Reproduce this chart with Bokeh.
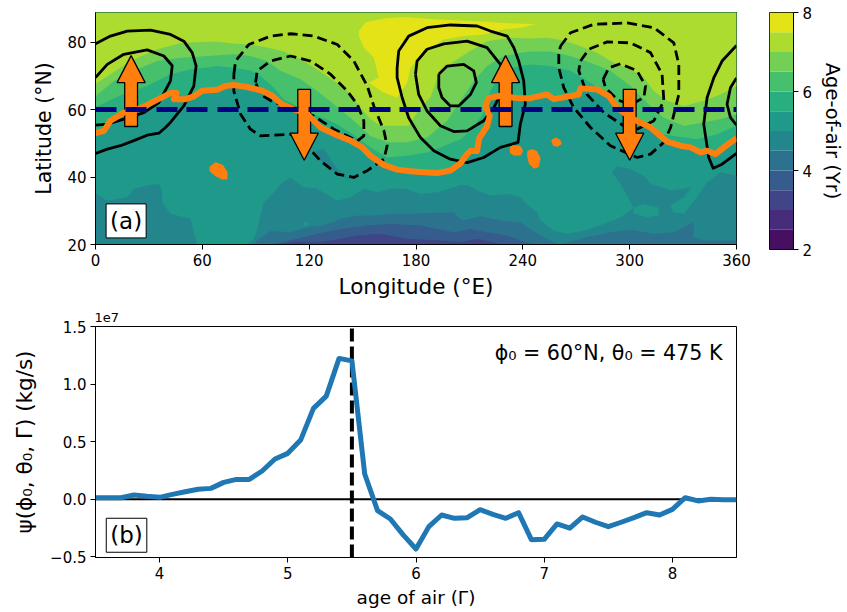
from bokeh.plotting import figure
from bokeh.layouts import column, row
from bokeh.models import Range1d, Label, FixedTicker
from bokeh.palettes import Viridis256
from bokeh.embed import file_html
from bokeh.resources import INLINE

# ---------- panel (a) data: lon / lat ----------
age_levels = [2 + 0.5 * i for i in range(13)]
LAT_TOP = 88.8

age_7p0 = [(0,67.7),(8.4,70.5),(19.7,74.4),(34.6,77.9),(47.7,79.7),(60.8,80.1),(68.4,80.1),(77.7,79.6),(87,79.3),(96.4,78.4),(105.8,77.2),(115.2,74.9),(124.5,71.9),(133.9,68.5),(141.4,65.5),(148.9,60.6),(154.4,57.2),(160,55.2),(169.4,55.2),(175.9,55.2),(182.5,60.6),(188.1,63.6),(191.8,69),(200.3,73.9),(208.7,76.9),(219.9,80.3),(233,81.3),(244.3,81.1),(253.7,81.3),(263,80.5),(272.4,78.8),(281.7,76.9),(291.1,73.9),(300.5,71.9),(308,69.5),(313.6,65.5),(321,62.6),(330.4,61.1),(341.6,62.6),(351,64.5),(360,67)]
age_6p5 = [(0,64),(10.3,68.5),(23.4,72),(34.6,74.4),(47.7,75.4),(62.7,75.9),(77.7,76.4),(87,75.9),(96.4,74.4),(103.9,71.5),(115.2,69),(124.5,65.5),(133.9,61.6),(143.2,57.6),(154.4,52.2),(163.8,50.3),(175,50.3),(186.2,51.7),(197.5,56.7),(205,62.6),(212.4,68.5),(219.9,72.9),(229.3,75.9),(238.6,76.9),(244.3,77.2),(255.5,77.2),(266.8,75.9),(278,73.9),(289.2,71.5),(300.5,67),(309.8,62),(319.2,57.6),(330.4,55.2),(341.6,56.2),(351,57.2),(360,58.6)]
age_6p0 = [(0,60.8),(15.9,64.6),(29,67),(42.1,70.5),(53.4,72),(62.7,72.5),(68.4,72.9),(77.7,72.4),(87,71.6),(92.7,70),(100.2,66.5),(105.8,63),(120.8,59.1),(133.9,56.2),(143.2,53.2),(154.4,48.8),(163.8,45.8),(175,46.3),(186.2,47.3),(193.7,48.8),(205,51.2),(210.6,53.7),(216.2,57.6),(219,60.6),(221.8,65.5),(228.3,71.5),(238.6,72.9),(244.3,73.4),(255.5,72.9),(266.8,71.5),(278,68),(287.4,64.5),(294.8,60.6),(306.1,56.2),(319.2,52.7),(324.8,52.2),(337.9,51.2),(349.1,52.7),(360,55.2)]
# the orange curve is the 5.5-year contour
age_5p5 = [(0,53),(4.7,53.7),(8.4,56.7),(15.9,59.1),(21.5,59.6),(29,61.4),(36.5,63.4),(42.1,64.9),(45.5,64.9),(44,63.1),(50.6,63.1),(55.2,63.9),(59.9,65.6),(68.3,65.9),(73,67),(77.7,67.3),(85.2,66.7),(93.6,65.6),(99.2,64.1),(104.8,61.6),(111.4,60.1),(118.9,58.7),(126.4,54.7),(135.7,52.4),(143.2,50.8),(149.8,48.8),(154.4,46.3),(161.9,43.6),(169.4,42.2),(176.9,41.7),(182.5,41.5),(191.8,41.2),(199.3,41.9),(205,44.1),(208.7,46.8),(210.6,47.7),(214.3,47.7),(215.3,51.3),(219.9,55),(221.4,58.1),(219,61.1),(220.9,63.4),(227.4,64.1),(236.8,63.4),(244.3,63.4),(253.6,64.5),(257.4,63.1),(266.8,64),(271.4,64.5),(272.4,66.3),(281.7,66),(288.3,64),(293,60.6),(300.5,57.6),(311.7,54.7),(321,50.5),(328.5,49.3),(334.2,48.8),(339.8,47.3),(343.5,47.8),(348.2,46.8),(352.9,48.8),(360,51.5)]
age_7p5_patch = [(147.9,83.3),(151.6,85.8),(162,87),(173,87.5),(191.8,86.7),(214.3,86.2),(229.3,85.7),(247,85.3),(238.6,84.3),(229.3,83.8),(218,82.3),(206.8,81.8),(195.6,80.8),(184.4,77.4),(176.9,72.4),(175,68),(169.4,63.6),(162,65),(153.5,68),(159.1,69.5),(156.3,75.4),(150.7,78.4),(147.9,81.8)]

age_5p0_left = [(0,35),(0.9,35),(6.6,33),(17.8,34),(21.5,36.5),(29,37.5),(35.6,38),(37.4,36),(37.4,32.5),(42.1,29.1),(53.4,27.6),(57.1,20),(0,20)]
age_5p0_right = [(85.2,20),(88.9,21.7),(90.8,24.6),(94.5,32.5),(100.2,35.5),(103.9,37.9),(109.5,39.9),(113.3,38.4),(117,37),(124.5,36.5),(135.7,33),(143.2,34),(150.7,36.5),(158.2,35.5),(165.7,36.5),(174.1,36.5),(182.5,35),(191.9,35.5),(201.2,37),(205,37.7),(209.6,37.5),(214.3,36),(221.8,34.5),(231.2,35),(238.7,34),(243.3,31.5),(248,29.6),(249.9,27.1),(257.4,24.1),(264.9,23.2),(274.2,24.1),(285.5,26.1),(294.8,28.1),(302.3,31),(294.8,38),(290.1,41.4),(293,43.2),(300.4,42.4),(307.9,40.4),(311.7,38),(322.9,36),(330.4,36.5),(335.1,37.3),(330.4,34),(322.9,31.5),(324.8,29.6),(330.4,29.1),(336.9,33.5),(343.5,38.4),(351,41.4),(360,40.4),(360,20)]
age_5p0_isle = [(123.5,47.8),(128.2,48.3),(135.7,42.5),(143.2,39),(135.7,40.9),(126.4,44.8)]
age_5p5_isles = [[(302.3,31),(307.9,32),(316.3,31),(316.3,28.6),(309.8,28.1),(302.3,29.1)],[(117,26.6),(119,26.6),(119,25.6),(117,25.6)]]
age_4p5_a = [(88.9,20),(90.8,21.2),(98.3,24.1),(109.5,23.6),(118.9,25.1),(128.2,25.6),(137.6,27.6),(147,28.6),(156.3,28.6),(165.7,29.1),(176.9,29.1),(191.9,29.4),(201.2,29.6),(205.9,27.1),(216.2,28.4),(227.4,27.1),(238.7,26.6),(244.3,24.6),(249.9,22.7),(257.4,20.7),(261.1,20)]
age_4p5_b = [(261.1,20),(276.1,22.2),(289.2,23.6),(300.4,24.4),(313.5,23.2),(324.8,23.6),(336,26.6),(336,22.2),(341.6,21.2),(360,21.2),(360,20)]
age_4p0 = [(98.3,20),(113.3,21.7),(124.5,23.2),(137.6,24.6),(152.6,25.6),(165.7,26.1),(182.5,25.6),(191.9,24.6),(201.2,23.6),(210.6,24.6),(219.9,23.6),(231.2,22.7),(238.7,21.2),(246.1,20)]
age_3p5 = [(102,20),(113.3,20.9),(124.5,20.7),(132,21.2),(147,22.7),(160,23.2),(175,21.7),(193.7,21.2),(205,20.7),(214.3,21.7),(223.7,20.7),(227.4,20)]

orange_isles = [
    [(64.6,42.9),(67.4,44.1),(71.1,43.4),(73.6,41.4),(73.6,39.6),(71.1,39.6),(67.4,40.6),(64.6,41.9)],
    [(233.3,48.8),(235,49.2),(238.2,49),(239.5,47.8),(238.5,46.7),(235,46.7),(233.3,47.3)],
    [(243,47.5),(245,48),(247.5,47.5),(249.4,45.5),(248.5,43.2),(246.5,42.8),(244,44),(243,46)],
    [(256.5,50.8),(258.5,51.4),(260.5,50.9),(261.3,50),(259.5,49.3),(257.5,49.5)],
]

solid_contours = [
    [(0,79.5),(8.4,81.8),(17.8,83.3),(30.9,83.6),(42.1,82.3),(49.6,80.3),(54.3,76.9),(56.5,73),(55.2,67),(49.6,61.1),(42.1,56.2),(39.3,54.7),(35.6,53),(29,52.4),(21.5,50.8),(14,49.3),(6.6,48.3),(0,47)],
    [(0,69.5),(6.6,73.4),(15.9,76.4),(29,77.7),(38.4,75.9),(43.1,73),(42.1,68.5),(35.6,62.1),(27.2,59.1),(15.9,57.2),(6.6,55.7),(0,55.4)],
    [(169.4,72.4),(170.3,77.4),(175.9,81.8),(186.2,84.3),(199.3,85.1),(214.3,84.8),(221.8,83.3),(231.2,81.8),(234.9,78.4),(237.7,74.4),(240.5,68.5),(241.4,61.6),(238.6,55.7),(237.3,50.3),(227.4,48.8),(218,45.8),(208.7,44.3),(199.3,45.3),(190,47.8),(182.5,51.7),(175.9,57.6),(172.2,63.6),(169.4,69.5),(169.4,72.4)],
    [(179.7,70.5),(180.6,74.4),(186.2,77.9),(195.6,79.5),(208.7,80.3),(219.9,78.4),(227.4,73.4),(228.3,65.5),(223.7,60.6),(218,56.7),(208.7,53.7),(201.2,53.5),(193.7,55.2),(186.2,59.6),(181.5,64.5),(179.7,70.5)],
    [(192.8,70.5),(197.5,72.9),(206.8,73.4),(212.4,71.5),(213.9,68),(210.6,64.5),(204,61.1),(199.3,61.1),(194.6,63.6),(192.8,66.5),(192.8,70.5)],
    [(360,79),(351.9,74.4),(347.3,69.5),(343.5,63.6),(341.6,55.7),(344.4,45.8),(346.9,42.6),(351.9,43.8),(360,47)],
    [(360,69.4),(356.6,66.5),(354.7,61.6),(356.6,57.6),(360,55.4)],
]
dashed_contours = [
    [(77.7,70.5),(78.7,74.4),(86.1,79.3),(98.3,81.8),(109.5,82.5),(122.6,81.8),(135.8,79.3),(145.1,74.4),(152.6,67),(156.3,61.1),(162,53.7),(163.8,49.3),(162,45.3),(152.6,41.9),(145.1,39.9),(135.7,40.9),(126.4,44.8),(117,50.3),(109.5,52.7),(92.7,52.2),(87,54.2),(81.5,58.6),(77.7,65.5),(77.7,70.5)],
    [(89.9,68),(90.8,71.5),(98.3,74.4),(109.5,75.9),(120.8,74.4),(132,70.5),(141.4,65.5),(147,61.6),(150.7,56.7),(150.7,52.2),(147,50.7),(133.9,54.2),(122.6,58.1),(111.4,60.6),(100.2,62.1),(92.7,64.5),(89.9,68)],
    [(261.1,78.8),(266.8,82.8),(279.9,85.3),(298.6,85.7),(313.6,84.3),(324.8,79.8),(327.6,73.4),(327.6,64.5),(323,54.7),(319.2,50.3),(311.7,46.8),(304.2,45.8),(289.2,49.3),(278,54.7),(268.6,60.6),(263,66.5),(260.2,72.4),(260.2,76.4),(261.1,78.8)],
    [(272.4,74.4),(277.1,77.9),(287.4,80.1),(300.5,79.8),(311.7,76.9),(318.2,70.5),(319.2,62.6),(313.6,56.7),(304.2,54.2),(296.7,55.2),(285.5,59.1),(276.1,64.5),(271.4,71.5),(272.4,74.4)],
    [(285.1,69),(288.3,72.4),(294.8,73.6),(304.2,71.5),(308.9,67),(308,63.6),(300.5,61.4),(293,63),(286.4,66.5),(285.1,69)],
]

# arrows: longitude, tail latitude, tip latitude
arrow_lon = [20.0, 117.2, 230.3, 300.0]
arrow_tail = [55.0, 66.0, 55.0, 66.0]
arrow_tip = [76.0, 45.0, 76.0, 45.0]
ARROW_HEAD_LEN = 8.0
ARROW_SHAFT_HALF = 3.6
ARROW_HEAD_HALF = 7.9

phi0 = 60
lon_ticks = [0, 60, 120, 180, 240, 300, 360]
lat_ticks = [20, 40, 60, 80]
cbar_ticks = [2, 4, 6, 8]

# ---------- panel (b) data ----------
gamma = [3.5,3.6,3.7,3.8,3.9,4.0,4.1,4.2,4.3,4.4,4.5,4.6,4.7,4.8,4.9,5.0,5.1,5.2,5.3,5.4,5.5,5.6,5.7,5.8,5.9,6.0,6.1,6.2,6.3,6.4,6.5,6.6,6.7,6.8,6.9,7.0,7.1,7.2,7.3,7.4,7.5,7.6,7.7,7.8,7.9,8.0,8.1,8.2,8.3,8.4,8.5]
psi = [.014,.014,.014,.038,.026,.017,.043,.066,.087,.095,.147,.173,.173,.246,.350,.399,.514,.789,.896,1.223,1.202,.220,-.098,-.171,-.309,-.431,-.237,-.136,-.165,-.159,-.09,-.13,-.165,-.116,-.35,-.347,-.214,-.251,-.153,-.199,-.237,-.199,-.159,-.116,-.136,-.087,.014,-.014,0,-.003,-.003]
gamma0 = 5.5
b_xticks = [4, 5, 6, 7, 8]
b_yticks = [-0.5, 0.0, 0.5, 1.0, 1.5]
b_ylabels = {-0.5: "\u22120.5", 0: "0.0", 0.5: "0.5", 1: "1.0", 1.5: "1.5"}

band = [Viridis256[int((i + 0.5) / 12 * 256)] for i in range(12)]
col = {lv: band[i] for i, lv in enumerate(age_levels[:-1])}

FONT = "DejaVu Sans"
TICK = "15px"


def style(p, xlab="20px", ylab="20px", ystand=2):
    p.outline_line_color = "black"
    p.outline_line_width = 1
    p.grid.visible = False
    for ax, size, stand in ((p.xaxis[0], xlab, 5), (p.yaxis[0], ylab, ystand)):
        ax.major_tick_in = 0
        ax.major_tick_out = 5
        ax.minor_tick_line_color = None
        ax.axis_line_color = "black"
        ax.major_tick_line_color = "black"
        ax.major_label_standoff = 4
        ax.major_label_text_font = FONT
        ax.major_label_text_font_size = TICK
        ax.major_label_text_color = "black"
        ax.axis_label_standoff = stand
        ax.axis_label_text_font = FONT
        ax.axis_label_text_font_size = size
        ax.axis_label_text_font_style = "normal"
        ax.axis_label_text_color = "black"


def xs(pts):
    return [q[0] for q in pts]


def ys(pts):
    return [q[1] for q in pts]


def above(pts):
    return xs(pts) + [360, 0], ys(pts) + [LAT_TOP, LAT_TOP]


# ---------- panel (a) ----------
a = figure(frame_width=641, frame_height=232, min_border_left=95, min_border_right=33, min_border_top=12,
           min_border_bottom=56, x_range=Range1d(0, 360), y_range=Range1d(20, LAT_TOP),
           toolbar_location=None, output_backend="svg",
           x_axis_label="Longitude (\u00b0E)", y_axis_label="Latitude (\u00b0N)")
style(a, xlab="21.5px", ylab="20.5px", ystand=8)
a.xaxis.ticker = FixedTicker(ticks=lon_ticks)
a.yaxis.ticker = FixedTicker(ticks=lat_ticks)
a.background_fill_color = col[5.0]

for pts, lv in ((age_5p5, 5.5), (age_6p0, 6.0), (age_6p5, 6.5), (age_7p0, 7.0)):
    x, y = above(pts)
    a.patch(x, y, fill_color=col[lv], line_color=None)
a.patch(xs(age_7p5_patch), ys(age_7p5_patch), fill_color=col[7.5], line_color=None)
for pts in (age_5p0_left, age_5p0_right, age_5p0_isle):
    a.patch(xs(pts), ys(pts), fill_color=col[4.5], line_color=None)
for pts in age_5p5_isles:
    a.patch(xs(pts), ys(pts), fill_color=col[5.0], line_color=None)
for pts in (age_4p5_a, age_4p5_b):
    a.patch(xs(pts), ys(pts), fill_color=col[4.0], line_color=None)
a.patch(xs(age_4p0), ys(age_4p0), fill_color=col[3.5], line_color=None)
a.patch(xs(age_3p5), ys(age_3p5), fill_color=col[3.0], line_color=None)

a.multi_line([xs(c) for c in solid_contours], [ys(c) for c in solid_contours], line_color="black",
             line_width=2.8, line_join="round")
a.multi_line([xs(c) for c in dashed_contours], [ys(c) for c in dashed_contours], line_color="black",
             line_width=2.8, line_dash="10 5")

arrow_x, arrow_y = [], []
for lon, t0, t1 in zip(arrow_lon, arrow_tail, arrow_tip):
    sgn = 1 if t1 > t0 else -1
    neck = t1 - sgn * ARROW_HEAD_LEN
    arrow_x.append([lon - ARROW_SHAFT_HALF, lon - ARROW_SHAFT_HALF, lon - ARROW_HEAD_HALF, lon,
                    lon + ARROW_HEAD_HALF, lon + ARROW_SHAFT_HALF, lon + ARROW_SHAFT_HALF])
    arrow_y.append([t0, neck, neck, t1, neck, neck, t0])
a.patches(arrow_x, arrow_y, fill_color="#ff7f0e", line_color="black", line_width=1.3)

a.line(xs(age_5p5), ys(age_5p5), line_color="#ff7f0e", line_width=6, line_join="round")
a.patches([xs(c) for c in orange_isles], [ys(c) for c in orange_isles], fill_color="#ff7f0e",
          line_color="#ff7f0e", line_width=2)
a.line([0, 360], [phi0, phi0], line_color="navy", line_width=5, line_dash="21 9 21 10 21 9 21 10 21 9")
a.add_layout(Label(x=17.2, y=27.0, text="(a)", text_font=FONT, text_font_size="23px", text_align="center",
                   text_baseline="middle", text_color="black", background_fill_color="white",
                   border_line_color="black", border_line_width=1, padding=4))

# ---------- colour bar ----------
c = figure(frame_width=24, frame_height=237, min_border_left=0, min_border_right=52, min_border_top=12,
           min_border_bottom=51, x_range=Range1d(0, 1), y_range=Range1d(2, 8),
           toolbar_location=None, output_backend="svg", y_axis_location="right",
           y_axis_label="Age-of-air (Yr)")
style(c, ylab="19.5px", ystand=6)
c.xaxis.visible = False
c.yaxis.ticker = FixedTicker(ticks=cbar_ticks)
c.quad(left=0, right=1, bottom=age_levels[:-1], top=age_levels[1:], fill_color=band, line_color=None)

# ---------- panel (b) ----------
b = figure(frame_width=641, frame_height=231, min_border_left=95, min_border_right=33, min_border_top=25,
           min_border_bottom=54, x_range=Range1d(3.5, 8.5), y_range=Range1d(-0.505, 1.5),
           toolbar_location=None, output_backend="svg", title="1e7",
           x_axis_label="age of air (\u0393)", y_axis_label="\u03c8(\u03d5\u2080, \u03b8\u2080, \u0393) (kg/s)")
style(b, xlab="18.5px", ylab="21.5px", ystand=10)
b.title.text_font = FONT
b.title.text_font_size = "13px"
b.title.text_font_style = "normal"
b.title.text_color = "black"
b.title.offset = -1
b.title.standoff = 10
b.xaxis.ticker = FixedTicker(ticks=b_xticks)
b.yaxis.ticker = FixedTicker(ticks=b_yticks)
b.yaxis.major_label_overrides = b_ylabels
b.line([gamma0, gamma0], [-0.505, 1.5], line_color="black", line_width=4, line_dash="13 5")
b.line([3.5, 8.5], [0, 0], line_color="black", line_width=2)
b.line(gamma, psi, line_color="#1f77b4", line_width=5, line_join="round")
b.add_layout(Label(x=8.39, y=1.266, text="\u03d5\u2080 = 60\u00b0N, \u03b8\u2080 = 475 K", text_font=FONT,
                   text_font_size="20.6px", text_color="black", text_align="right", text_baseline="middle"))
b.add_layout(Label(x=3.742, y=-0.312, text="(b)", text_font=FONT, text_font_size="23px", text_align="center",
                   text_baseline="middle", text_color="black", background_fill_color="white",
                   border_line_color="black", border_line_width=1, padding=4))

page = column(row(a, c, spacing=0), b, spacing=0)
open("out.html", "w").write(file_html(page, INLINE))
